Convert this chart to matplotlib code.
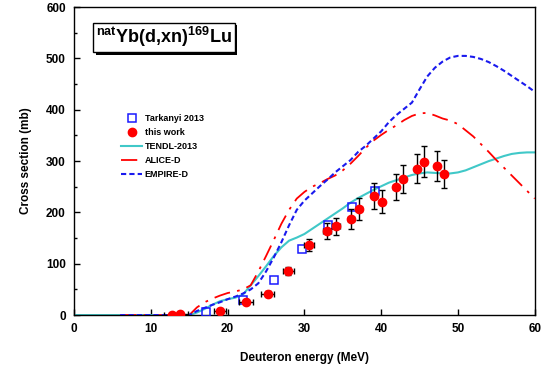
import numpy as np
import matplotlib.pyplot as plt
import matplotlib.transforms as mtransforms
from matplotlib.lines import Line2D
from matplotlib.patches import Rectangle
from matplotlib.ticker import MultipleLocator

plt.rcParams['font.family'] = ['Liberation Sans', 'DejaVu Sans']
plt.rcParams['font.weight'] = 'bold'
plt.rcParams['mathtext.fontset'] = 'custom'
plt.rcParams['mathtext.bf'] = 'Liberation Sans:bold'
plt.rcParams['mathtext.rm'] = 'Liberation Sans:bold'
plt.rcParams['mathtext.default'] = 'bf'

# measured data (this work)
e_work = [12.8, 13.8, 19.0, 22.4, 25.2, 27.9, 30.6, 32.9, 34.1, 36.1, 37.1,
          39.1, 40.1, 41.9, 42.9, 44.7, 45.6, 47.3, 48.2]
s_work = [0, 3, 8, 25, 42, 86, 136, 164, 173, 187, 207,
          232, 221, 250, 265, 285, 299, 290, 275]
ds_work = [2, 2, 3, 4, 5, 8, 12, 16, 17, 19, 21,
           26, 22, 25, 27, 28, 30, 29, 28]
de_work = [1.1, 1.0, 0.8, 0.9, 0.8, 0.7, 0.6, 0.5, 0.5, 0.4, 0.4,
           0.3, 0.3, 0.3, 0.3, 0.2, 0.2, 0.2, 0.2]

# Tarkanyi 2013
e_tark = [17.2, 22.0, 26.0, 29.7, 33.1, 36.2, 39.2]
s_tark = [6.5, 30, 68, 129, 176, 210, 242]

# TENDL-2013
e_tendl = list(range(0, 61))
s_tendl = [0] * 16 + [5, 12, 20, 27, 31, 34, 40, 58, 76, 95, 115, 132, 145, 151,
                      158, 168, 178, 188, 198, 208, 219, 228, 236, 244, 251,
                      258, 263, 268, 273, 276, 278, 277, 276, 276, 278, 282,
                      288, 294, 300, 305, 310, 314, 316, 317, 317]

# ALICE-D
e_alice = list(range(6, 61))
s_alice = [0] * 10 + [15, 25, 32, 38, 43, 46, 50, 58, 85, 115, 146, 178, 205,
                      227, 240, 250, 257, 265, 272, 282, 295, 310, 326, 340,
                      351, 361, 370, 380, 388, 393, 394, 389, 383, 379, 372,
                      360, 348, 333, 318, 302, 287, 272, 257, 242, 227]

# EMPIRE-D
e_empire = list(range(6, 61))
s_empire = [0] * 10 + [8, 14, 20, 25, 31, 36, 42, 50, 62, 85, 112, 142, 175,
                       205, 223, 237, 251, 264, 278, 290, 302, 318, 330, 344,
                       358, 376, 390, 402, 414, 440, 465, 482, 494, 502, 505,
                       505, 503, 499, 493, 485, 476, 466, 456, 446, 435]

fig = plt.figure(figsize=(5.53, 3.76), dpi=100)
ax = fig.add_axes([0.134, 0.162, 0.833, 0.819])

ax.plot(e_tendl, s_tendl, color='#40c8c8', lw=1.5, zorder=2)
ax.plot(e_alice, s_alice, color='red', lw=1.3, dashes=(9, 4, 1.5, 4), zorder=3)
ax.plot(e_empire, s_empire, color='#1a1aee', lw=1.5, dashes=(2.5, 1.5), zorder=3)
ax.plot(e_tark, s_tark, 's', ms=5.5, mfc='none', mec='#1a1aff', mew=1.1, zorder=4)
ax.errorbar(e_work, s_work, yerr=ds_work, xerr=de_work, fmt='o', ms=6,
            color='red', ecolor='black', elinewidth=1, capsize=2, zorder=5)

ax.set_xlim(0, 60)
ax.set_ylim(0, 600)
ax.xaxis.set_major_locator(MultipleLocator(10))
ax.yaxis.set_major_locator(MultipleLocator(100))
ax.yaxis.set_minor_locator(MultipleLocator(50))
ax.tick_params(direction='in', length=4, width=1, labelsize=8.5, pad=6)
ax.tick_params(which='minor', direction='in', length=2.5, width=1)
for sp in ax.spines.values():
    sp.set_linewidth(1)
ax.set_xlabel('Deuteron energy (MeV)', fontsize=8.5, fontweight='bold', labelpad=12)
ax.set_ylabel('Cross section (mb)', fontsize=8.5, fontweight='bold', labelpad=10)

handles = [
    Line2D([], [], ls='none', marker='s', ms=5.5, mfc='none', mec='#1a1aff', mew=1.1),
    Line2D([], [], ls='none', marker='o', ms=6, color='red'),
    Line2D([], [], color='#40c8c8', lw=1.5),
    Line2D([], [], color='red', lw=1.3, dashes=(9, 4, 1.5, 4)),
    Line2D([], [], color='#1a1aee', lw=1.5, dashes=(2.5, 1.5)),
]
labels = ['Tarkanyi 2013', 'this work', 'TENDL-2013', 'ALICE-D', 'EMPIRE-D']
ax.legend(handles, labels, loc='upper left', bbox_to_anchor=(0.085, 0.68),
          frameon=False, prop={'size': 6.5, 'weight': 'bold'}, handlelength=2.3,
          handletextpad=0.3, labelspacing=0.55)

title = r'$^{nat}$Yb(d,xn)$^{169}$Lu'
t = ax.text(0.047, 0.902, title, transform=ax.transAxes, fontsize=13,
            va='center', ha='left', zorder=7,
            bbox=dict(boxstyle='square,pad=0.15', fc='white', ec='black', lw=1))

# drop shadow behind the title box
fig.canvas.draw()
bb = t.get_bbox_patch().get_window_extent(fig.canvas.get_renderer())
shadow = Rectangle((bb.x0 + 2.5, bb.y0 - 2.5), bb.width, bb.height,
                   transform=mtransforms.IdentityTransform(),
                   fc='black', ec='none', zorder=6)
ax.add_artist(shadow)

fig.savefig('out.png', dpi=100)
